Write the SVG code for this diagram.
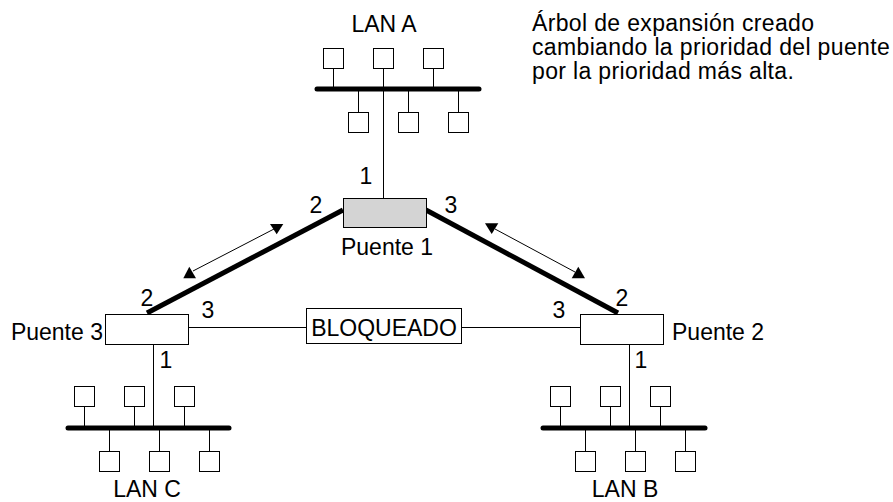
<svg xmlns="http://www.w3.org/2000/svg" width="893" height="502" viewBox="0 0 893 502">
<style>
text{font-family:"Liberation Sans",Arial,sans-serif;font-size:23px;fill:#000}
.note{font-size:23px;letter-spacing:0.35px}
.box{fill:#fff;stroke:#000;stroke-width:1}
.gray{fill:#d4d4d4}
.thin{stroke:#000;stroke-width:1;fill:none}
.bus{stroke:#000;stroke-width:5;stroke-linecap:round;fill:none}
.trunk{stroke:#000;stroke-width:5;fill:none}
.head{fill:#000;stroke:none}
.st{fill:#fff;stroke:#000;stroke-width:1}
</style>
<defs>
<g id="station"><rect class="st" x="0" y="0" width="20" height="20"/></g>
</defs>
<rect width="893" height="502" fill="#fff"/>

<g id="note">
<text class="note" x="532" y="31">Árbol de expansión creado</text>
<text class="note" x="532" y="55">cambiando la prioridad del puente</text>
<text class="note" x="532" y="79">por la prioridad más alta.</text>
</g>

<g id="connectors">
<line class="thin" x1="383.5" y1="89" x2="383.5" y2="198"/>
<line class="trunk" x1="147" y1="313" x2="343" y2="210"/>
<line class="trunk" x1="426" y1="210" x2="618" y2="313"/>
<line class="thin" x1="188" y1="327.5" x2="306" y2="327.5"/>
<line class="thin" x1="462" y1="327.5" x2="580" y2="327.5"/>
<line class="thin" x1="153.5" y1="344" x2="153.5" y2="428"/>
<line class="thin" x1="629.5" y1="344" x2="629.5" y2="428"/>
<line class="thin" x1="193" y1="271" x2="274" y2="229"/>
<polygon class="head" points="183.3,278.3 196,278.3 189.3,266.7"/>
<polygon class="head" points="270,224 283.3,224 276.7,234.3"/>
<line class="thin" x1="495" y1="229" x2="575" y2="272"/>
<polygon class="head" points="485,223.3 498.3,223.3 491.7,234"/>
<polygon class="head" points="571.7,278.3 585,278.3 578.3,266.7"/>
</g>

<g id="lanA">
<text x="384" y="32" text-anchor="middle">LAN A</text>
<line class="bus" x1="317" y1="89" x2="479" y2="89"/>
<path class="thin" d="M333.5 68V89M383.5 68V89M433.5 68V89M358.5 89V112M408.5 89V112M458.5 89V112"/>
<use href="#station" x="323.5" y="48.5"/>
<use href="#station" x="373.5" y="48.5"/>
<use href="#station" x="423.5" y="48.5"/>
<use href="#station" x="348.5" y="112.5"/>
<use href="#station" x="398.5" y="112.5"/>
<use href="#station" x="448.5" y="112.5"/>
</g>

<g id="puente1">
<rect class="box gray" x="343.5" y="198.5" width="83" height="29"/>
<text x="387" y="255" text-anchor="middle">Puente 1</text>
<text x="366" y="184" text-anchor="middle">1</text>
<text x="316" y="213" text-anchor="middle">2</text>
<text x="451" y="213" text-anchor="middle">3</text>
</g>

<g id="puente3">
<rect class="box" x="105.5" y="314.5" width="83" height="30"/>
<text x="103" y="340" text-anchor="end">Puente 3</text>
<text x="147" y="306" text-anchor="middle">2</text>
<text x="208" y="318" text-anchor="middle">3</text>
<text x="166" y="368" text-anchor="middle">1</text>
</g>

<g id="puente2">
<rect class="box" x="580.5" y="314.5" width="83" height="30"/>
<text x="672" y="340">Puente 2</text>
<text x="622" y="306" text-anchor="middle">2</text>
<text x="559" y="318" text-anchor="middle">3</text>
<text x="641" y="368" text-anchor="middle">1</text>
</g>

<g id="bloqueado">
<rect class="box" x="306.5" y="308.5" width="155" height="35"/>
<text x="384" y="336" text-anchor="middle">BLOQUEADO</text>
</g>

<g id="lanC">
<line class="bus" x1="68" y1="428" x2="229" y2="428"/>
<path class="thin" d="M84.5 406V428M134.5 406V428M184.5 406V428M109.5 428V451M159.5 428V451M209.5 428V451"/>
<use href="#station" x="74.5" y="386.5"/>
<use href="#station" x="124.5" y="386.5"/>
<use href="#station" x="174.5" y="386.5"/>
<use href="#station" x="99.5" y="451.5"/>
<use href="#station" x="149.5" y="451.5"/>
<use href="#station" x="199.5" y="451.5"/>
<text x="147" y="497" text-anchor="middle">LAN C</text>
</g>

<g id="lanB">
<line class="bus" x1="543" y1="428" x2="705" y2="428"/>
<path class="thin" d="M560.5 406V428M610.5 406V428M660.5 406V428M585.5 428V451M635.5 428V451M685.5 428V451"/>
<use href="#station" x="550.5" y="386.5"/>
<use href="#station" x="600.5" y="386.5"/>
<use href="#station" x="650.5" y="386.5"/>
<use href="#station" x="575.5" y="451.5"/>
<use href="#station" x="625.5" y="451.5"/>
<use href="#station" x="675.5" y="451.5"/>
<text x="625" y="497" text-anchor="middle">LAN B</text>
</g>
</svg>
